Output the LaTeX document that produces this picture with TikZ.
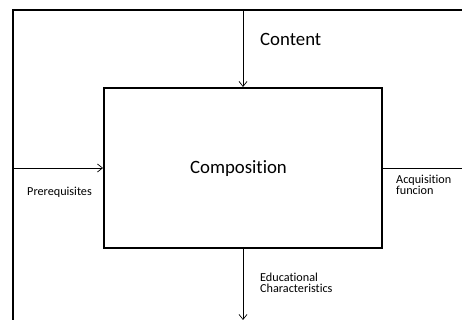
\documentclass[tikz,border=0pt]{standalone}
\usepackage{fontspec}
\setmainfont{Carlito}[Ligatures=NoCommon]
\usetikzlibrary{arrows.meta}
\begin{document}
\begin{tikzpicture}[x=1pt,y=-1pt,
  frame/.style={line width=2pt},
  conn/.style={line width=0.8pt},
  arr/.style={conn,-{Straight Barb[length=5pt,width=8pt,line width=0.7pt]}},
  big/.style={font=\fontsize{18.8}{22}\selectfont, inner sep=0pt},
  small/.style={font=\fontsize{12.2}{10.8}\selectfont, inner sep=0pt, align=left}]
\useasboundingbox (0,0) rectangle (462,320);
\coordinate (tl) at (13,10);
\coordinate (tr) at (463,10);
\coordinate (bl) at (13,321);
\draw[frame] (tr) -- (tl) -- (bl);
\node[draw, frame, minimum width=278pt, minimum height=160pt, inner sep=0pt] (comp) at (243,168) {};
\node[big, anchor=base] (comptext) at (238.5,173.3) {Composition};
\coordinate (ctop) at (243,10);
\coordinate (cbot) at (243,320);
\coordinate (lin) at (13,168);
\coordinate (rout) at (463,168);
\draw[arr] (ctop) -- (comp.north);
\draw[arr] (lin) -- (comp.west);
\draw[arr] (comp.south) -- (cbot);
\draw[conn] (comp.east) -- (rout);
\node[big, anchor=base west] (content) at (260,46) {Content};
\node[small, anchor=base west] (prereq) at (27,195) {Prerequisites};
\node[small, anchor=base west] (acq) at (396,194.5) {Acquisition\\funcion};
\node[small, anchor=base west] (edu) at (260,292.5) {Educational\\Characteristics};
\end{tikzpicture}
\end{document}
